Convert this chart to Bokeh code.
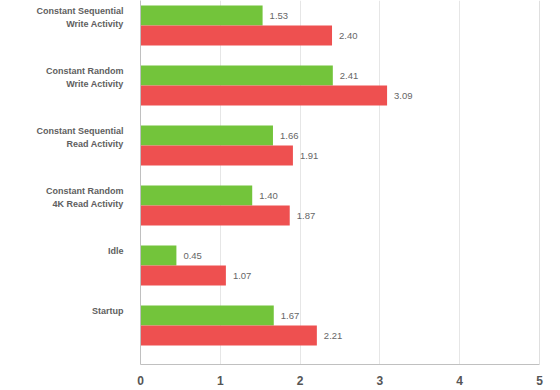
from bokeh.plotting import figure
from bokeh.models import Range1d, FixedTicker, ColumnDataSource, Span
from bokeh.core.properties import value
from bokeh.embed import file_html
from bokeh.resources import INLINE

categories = ["Constant Sequential\nWrite Activity", "Constant Random\nWrite Activity",
              "Constant Sequential\nRead Activity", "Constant Random\n4K Read Activity",
              "Idle", "Startup"]
green_vals = [1.53, 2.41, 1.66, 1.40, 0.45, 1.67]
red_vals = [2.40, 3.09, 1.91, 1.87, 1.07, 2.21]
x_ticks = [0, 1, 2, 3, 4, 5]

GREEN = "#73C43B"
RED = "#EE5050"
n = len(categories)
centers = [n - 1 - i + 0.5 for i in range(n)]

p = figure(output_backend="svg", toolbar_location=None,
           frame_width=399, frame_height=364,
           min_border_left=140, min_border_right=16, min_border_top=0, min_border_bottom=0,
           x_range=Range1d(0, 5), y_range=Range1d(-0.15, -0.15 + 364 / 60))
p.background_fill_color = "white"
p.border_fill_color = "white"
p.outline_line_color = None

src_g = ColumnDataSource(dict(y=[c + 1 / 6 for c in centers], v=green_vals,
                              t=["%.2f" % v for v in green_vals]))
src_r = ColumnDataSource(dict(y=[c - 1 / 6 for c in centers], v=red_vals,
                              t=["%.2f" % v for v in red_vals]))
p.hbar(y="y", left=0, right="v", height=1 / 3, source=src_g, fill_color=GREEN, line_color=None)
p.hbar(y="y", left=0, right="v", height=1 / 3, source=src_r, fill_color=RED, line_color=None)
for s in (src_g, src_r):
    p.text(x="v", y="y", text="t", source=s, x_offset=7, text_baseline="middle",
           text_align="left", text_font=value("Liberation Sans"), text_font_size="9.5px",
           text_color="#666666")

# y-axis tick labels: first line sits 15px above category center
tick_pos = []
overrides = {}
for c, lab in zip(centers, categories):
    lines = lab.count("\n") + 1
    pos = c + (15 - 6.5 * (lines - 1)) / 60
    tick_pos.append(pos)
    overrides[pos] = lab
p.yaxis.ticker = FixedTicker(ticks=tick_pos)
p.yaxis.major_label_overrides = overrides
p.yaxis.major_tick_line_color = None
p.yaxis.minor_tick_line_color = None
p.yaxis.axis_line_color = "#C0C0C0"
p.yaxis.major_label_standoff = 11
p.yaxis.major_label_text_font = "Liberation Sans"
p.yaxis.major_label_text_font_style = "bold"
p.yaxis.major_label_text_font_size = "9px"
p.yaxis.major_label_text_color = "#606060"
p.yaxis.major_label_text_line_height = 1.3
p.ygrid.grid_line_color = None

p.xaxis.ticker = FixedTicker(ticks=x_ticks)
p.xaxis.major_tick_line_color = None
p.xaxis.minor_tick_line_color = None
p.xaxis.axis_line_color = "#C0C0C0"
p.xaxis.major_label_standoff = 5
p.xaxis.major_label_text_font = "Liberation Sans"
p.xaxis.major_label_text_font_style = "bold"
p.xaxis.major_label_text_font_size = "12px"
p.xaxis.major_label_text_color = "#555555"
p.xgrid.ticker = FixedTicker(ticks=x_ticks[1:-1])
p.xgrid.grid_line_color = "#E6E6E6"

p.add_layout(Span(location=5, dimension="height", line_color="#C0C0C0", line_width=1))

open("out.html", "w").write(file_html(p, INLINE))
